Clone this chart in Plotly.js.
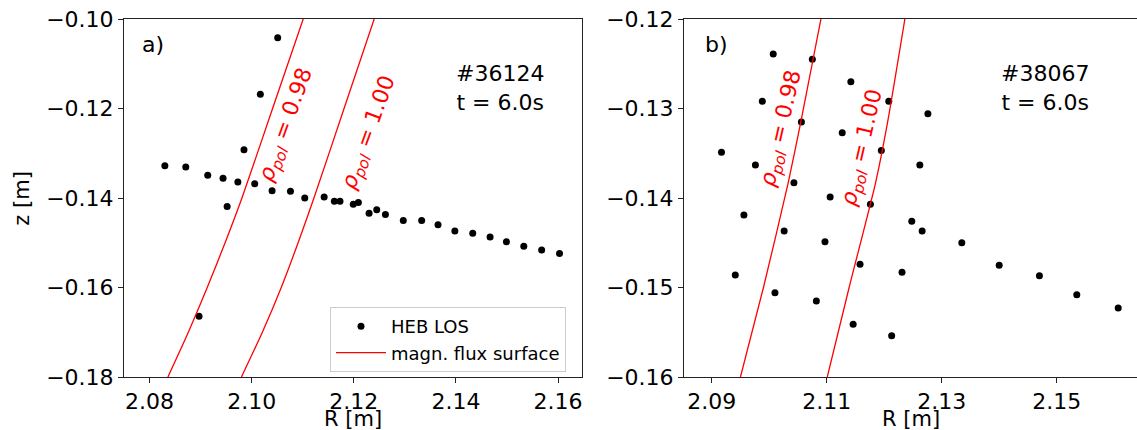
<!DOCTYPE html>
<html>
<head>
<meta charset="utf-8">
<script src="https://cdn.plot.ly/plotly-3.0.1.min.js"></script>
<style>html,body{margin:0;padding:0;background:#fff;}#chart{width:1137px;height:430px;}</style>
</head>
<body>
<div id="chart"></div>
<script>
// ---- Panel a) shot #36124 ----
const aLosR = [2.1051, 2.1017, 2.0985, 2.0830, 2.0871, 2.0914, 2.0944, 2.0973, 2.1006, 2.0952,
               2.1040, 2.1076, 2.1104, 2.1142, 2.1162, 2.1173, 2.1199, 2.1209, 2.1230, 2.1245,
               2.1262, 2.1297, 2.1333, 2.1365, 2.1398, 2.1433, 2.1467, 2.1499, 2.1533, 2.1568,
               2.1603, 2.0897];
const aLosZ = [-0.1042, -0.1168, -0.1292, -0.1328, -0.1331, -0.1349, -0.1356, -0.1364, -0.1368, -0.1419,
               -0.1384, -0.1385, -0.1400, -0.1398, -0.1407, -0.1407, -0.1414, -0.1410, -0.1434, -0.1426,
               -0.1437, -0.1450, -0.1450, -0.1460, -0.1474, -0.1479, -0.1487, -0.1498, -0.1508, -0.1516,
               -0.1524, -0.1664];
const aSurfZ   = [-0.100, -0.120, -0.140, -0.150, -0.160, -0.170, -0.180];
const aSurf098 = [2.1101, 2.1041, 2.0981, 2.0948, 2.0913, 2.0876, 2.0836];
const aSurf100 = [2.1240, 2.1181, 2.1122, 2.1091, 2.1058, 2.1021, 2.0980];

// ---- Panel b) shot #38067 ----
const bLosR = [2.1007, 2.1075, 2.1142, 2.0988, 2.1208, 2.1276, 2.1056, 2.1127, 2.0917, 2.1195,
               2.0976, 2.1262, 2.1043, 2.1106, 2.1176, 2.0956, 2.1248, 2.1026, 2.1266, 2.1097,
               2.1335, 2.1158, 2.1400, 2.1231, 2.0941, 2.1470, 2.1010, 2.1082, 2.1535, 2.1607,
               2.1146, 2.1213];
const bLosZ = [-0.1239, -0.1245, -0.1270, -0.1292, -0.1292, -0.1306, -0.1315, -0.1327, -0.1349, -0.1347,
               -0.1363, -0.1363, -0.1383, -0.1399, -0.1407, -0.1419, -0.1426, -0.1437, -0.1437, -0.1449,
               -0.1450, -0.1474, -0.1475, -0.1483, -0.1486, -0.1487, -0.1506, -0.1515, -0.1508, -0.1523,
               -0.1541, -0.1554];
const bSurfZ   = [-0.120, -0.1315, -0.1383, -0.150, -0.160];
const bSurf098 = [2.1090, 2.1055, 2.1033, 2.0990, 2.0950];
const bSurf100 = [2.1236, 2.1206, 2.1185, 2.1139, 2.1101];

// tick labels / text
const aXTicks = [2.08, 2.10, 2.12, 2.14, 2.16];
const aYTicks = [-0.10, -0.12, -0.14, -0.16, -0.18];
const bXTicks = [2.09, 2.11, 2.13, 2.15];
const bYTicks = [-0.12, -0.13, -0.14, -0.15, -0.16];
const xTitle = "R [m]";
const yTitle = "z [m]";
const panelLabels = ["a)", "b)"];
const shotTexts = ["#36124<br>t = 6.0s", "#38067<br>t = 6.0s"];
const rhoTexts = ["<i>ρ</i><sub><i>pol</i></sub> = 0.98", "<i>ρ</i><sub><i>pol</i></sub> = 1.00"];
const seriesNames = ["HEB LOS", "magn. flux surface"];

const FONT = "DejaVu Sans, Verdana, sans-serif";
const RED = "#ff0000";
const SPL = {shape: "spline", smoothing: 0.6};

const traces = [
  {x: aLosR, y: aLosZ, type: "scatter", mode: "markers", name: seriesNames[0],
   marker: {color: "#000", size: 7}, xaxis: "x", yaxis: "y"},
  {x: aSurf098, y: aSurfZ, type: "scatter", mode: "lines", name: seriesNames[1],
   line: Object.assign({color: RED, width: 1.3}, SPL), xaxis: "x", yaxis: "y"},
  {x: aSurf100, y: aSurfZ, type: "scatter", mode: "lines", showlegend: false,
   line: Object.assign({color: RED, width: 1.3}, SPL), xaxis: "x", yaxis: "y"},
  {x: bLosR, y: bLosZ, type: "scatter", mode: "markers", showlegend: false,
   marker: {color: "#000", size: 7}, xaxis: "x2", yaxis: "y2"},
  {x: bSurf098, y: bSurfZ, type: "scatter", mode: "lines", showlegend: false,
   line: Object.assign({color: RED, width: 1.3}, SPL), xaxis: "x2", yaxis: "y2"},
  {x: bSurf100, y: bSurfZ, type: "scatter", mode: "lines", showlegend: false,
   line: Object.assign({color: RED, width: 1.3}, SPL), xaxis: "x2", yaxis: "y2"}
];

const axBase = {
  showline: true, linecolor: "#222", linewidth: 1, ticks: "outside", ticklen: 5,
  tickcolor: "#222", showgrid: false, zeroline: false,
  tickfont: {family: FONT, size: 22, color: "#000"}
};

const layout = {
  width: 1137, height: 430,
  margin: {l: 0, r: 0, t: 19, b: 53},
  paper_bgcolor: "#fff", plot_bgcolor: "#fff",
  font: {family: FONT, color: "#000"},
  showlegend: true,
  legend: {x: 330/1137, y: 0.1955, xanchor: "left", yanchor: "top", itemwidth: 50,
           bgcolor: "rgba(255,255,255,0.85)", bordercolor: "#cccccc", borderwidth: 1,
           font: {family: FONT, size: 18, color: "#000"}},
  xaxis: Object.assign({}, axBase, {domain: [124/1137, 582/1137], range: [2.0750, 2.1647],
          tickvals: aXTicks, tickformat: ".2f", mirror: true, anchor: "y"}),
  yaxis: Object.assign({}, axBase, {domain: [0, 1], range: [-0.18, -0.10],
          tickvals: aYTicks, tickformat: ".2f", mirror: true, anchor: "x"}),
  xaxis2: Object.assign({}, axBase, {domain: [684/1137, 1], range: [2.08518, 2.16397],
          tickvals: bXTicks, tickformat: ".2f", mirror: true, anchor: "y2"}),
  yaxis2: Object.assign({}, axBase, {domain: [0, 1], range: [-0.16, -0.12],
          tickvals: bYTicks, tickformat: ".2f", mirror: false, anchor: "x2"}),
  annotations: [
    {text: xTitle, xref: "x domain", yref: "paper", x: 0.5, y: -0.117,
     xanchor: "center", yanchor: "middle", showarrow: false, font: {family: FONT, size: 21}},
    {text: xTitle, xref: "x2 domain", yref: "paper", x: 0.5, y: -0.117,
     xanchor: "center", yanchor: "middle", showarrow: false, font: {family: FONT, size: 21}},
    {text: yTitle, xref: "paper", yref: "y domain", x: 21.7/1137, y: 0.5, textangle: -90,
     xanchor: "center", yanchor: "middle", showarrow: false, font: {family: FONT, size: 21}},
    {text: panelLabels[0], xref: "x domain", yref: "y domain", x: 0.035, y: 0.93,
     xanchor: "left", yanchor: "middle", showarrow: false, font: {family: FONT, size: 22}},
    {text: panelLabels[1], xref: "x2 domain", yref: "y2 domain", x: 0.041, y: 0.93,
     xanchor: "left", yanchor: "middle", showarrow: false, font: {family: FONT, size: 22}},
    {text: shotTexts[0], xref: "x domain", yref: "y domain", x: 0.821, y: 0.807,
     xanchor: "center", yanchor: "middle", align: "center", showarrow: false, font: {family: FONT, size: 22}},
    {text: shotTexts[1], xref: "x2 domain", yref: "y2 domain", x: 0.797, y: 0.807,
     xanchor: "center", yanchor: "middle", align: "center", showarrow: false, font: {family: FONT, size: 22}},
    {text: rhoTexts[0], xref: "x", yref: "y", x: 2.1068, y: -0.1237, textangle: -70,
     showarrow: false, font: {family: FONT, size: 22, color: RED}},
    {text: rhoTexts[1], xref: "x", yref: "y", x: 2.1230, y: -0.1255, textangle: -70,
     showarrow: false, font: {family: FONT, size: 22, color: RED}},
    {text: rhoTexts[0], xref: "x2", yref: "y2", x: 2.1022, y: -0.1322, textangle: -77,
     showarrow: false, font: {family: FONT, size: 22, color: RED}},
    {text: rhoTexts[1], xref: "x2", yref: "y2", x: 2.1164, y: -0.1344, textangle: -77,
     showarrow: false, font: {family: FONT, size: 22, color: RED}}
  ]
};

Plotly.newPlot("chart", traces, layout, {displayModeBar: false, staticPlot: true});
</script>
</body>
</html>
